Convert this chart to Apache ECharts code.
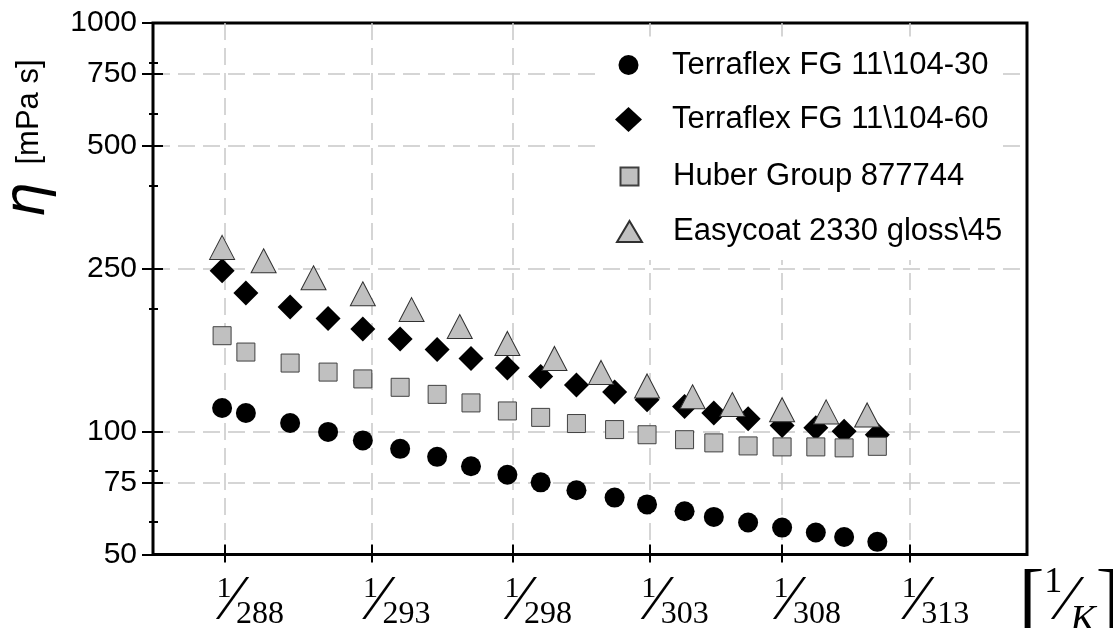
<!DOCTYPE html>
<html>
<head>
<meta charset="utf-8">
<script src="https://cdn.jsdelivr.net/npm/echarts@6/dist/echarts.min.js"></script>
<style>
  html, body { margin: 0; padding: 0; background: #fff; }
  #main { width: 1113px; height: 628px; }
</style>
</head>
<body>
<div id="main"></div>
<script>
// measurement temperatures [K]
const tempA = [287.9, 288.7, 290.2, 291.5, 292.7, 294.0, 295.3, 296.5, 297.8, 299.0,
               300.3, 301.7, 302.9, 304.3, 305.4, 306.7, 308.0, 309.3, 310.4, 311.7];
const tempB = [287.9, 289.3, 291.0, 292.7, 294.4, 296.1, 297.8, 299.5, 301.2, 302.9,
               304.6, 306.1, 308.0, 309.7, 311.3];

// viscosity [mPa s]
const terra30 = [114.2, 111.0, 104.9, 99.8, 95.1, 90.7, 86.7, 82.2, 78.4, 75.1,
                 71.8, 68.9, 66.3, 63.8, 61.8, 59.9, 58.2, 56.6, 55.2, 53.7];
const terra60 = [247.4, 218.2, 201.7, 189.1, 178.1, 168.4, 158.8, 151.0, 143.0, 136.4,
                 130.0, 125.0, 119.6, 115.2, 111.0, 107.4, 103.4, 102.1, 100.1, 98.2];
const huber = [171.6, 156.5, 147.1, 139.8, 134.5, 128.3, 123.3, 117.5, 112.3, 108.3,
               104.6, 101.1, 98.2, 95.5, 93.8, 92.2, 91.7, 91.7, 91.2, 92.0];
const easycoat = [282.3, 261.7, 237.8, 217.3, 198.8, 180.7, 164.3, 151.0, 139.5, 129.3,
                  121.6, 116.4, 113.1, 111.7, 109.8];

const seriesNames = ['Terraflex FG 11\\104-30', 'Terraflex FG 11\\104-60',
                     'Huber Group 877744', 'Easycoat 2330 gloss\\45'];

// axis ticks
const xTickTemps = [288, 293, 298, 303, 308, 313];
const yMajor = [50, 75, 100, 250, 500, 750, 1000];
const yMinor = [60, 80, 200, 400, 600, 800];

const xMin = 1 / 317.7, xMax = 1 / 285.6;
const xTicks = xTickTemps.map(t => 1 / t);

const chart = echarts.init(document.getElementById('main'));

const gridColor = '#c8c8c8';
const fracRich = {
    n: { fontFamily: 'Liberation Serif', fontSize: 30, lineHeight: 30, width: 10, verticalAlign: 'top', color: '#000' },
    s: { fontFamily: 'Liberation Serif', fontSize: 64, lineHeight: 56, width: 7, color: '#000' },
    d: { fontFamily: 'Liberation Serif', fontSize: 32, lineHeight: 32, verticalAlign: 'bottom', color: '#000' }
};

function xAxisCfg(inside, len, main) {
    return {
        type: 'value', min: xMin, max: xMax, inverse: true, position: 'bottom',
        axisLine: { show: false },
        axisTick: { customValues: xTicks, inside: inside, length: len, lineStyle: { color: '#000', width: 2 } },
        axisLabel: main ? {
            customValues: xTicks, margin: 20, align: 'center', padding: [0, 0, 0, 53],
            formatter: v => '{n|1}{s|\u2044}{d|' + Math.round(1 / v) + '}',
            rich: fracRich
        } : { show: false },
        splitLine: main ? { show: true, lineStyle: { color: gridColor, width: 1.5, type: [17, 8] } } : { show: false },
        name: main ? '{b|[}{n|1}{s|\u2044}{k|K}{b|]}' : '',
        nameLocation: 'start',
        nameGap: -8,
        nameTextStyle: {
            align: 'left', verticalAlign: 'top', padding: [10, 0, 0, 0],
            rich: {
                b: { fontFamily: 'Liberation Serif', fontSize: 76, lineHeight: 76, color: '#000' },
                n: { fontFamily: 'Liberation Serif', fontSize: 36, lineHeight: 36, verticalAlign: 'top', color: '#000' },
                s: { fontFamily: 'Liberation Serif', fontSize: 64, lineHeight: 64, width: 8, color: '#000' },
                k: { fontFamily: 'Liberation Serif', fontStyle: 'italic', fontSize: 38, lineHeight: 46, verticalAlign: 'bottom', color: '#000' }
            }
        }
    };
}

function yAxisCfg(values, inside, len, main) {
    return {
        type: 'log', logBase: 10, min: 50, max: 1000, position: 'left',
        axisLine: { show: false },
        axisTick: { customValues: values, inside: inside, length: len, lineStyle: { color: '#000', width: 2 } },
        axisLabel: main ? {
            customValues: values, margin: 16, fontSize: 30, fontFamily: 'Liberation Sans', color: '#000',
            formatter: v => String(Math.round(v))
        } : { show: false },
        splitLine: main ? { show: true, showMinLine: false, showMaxLine: false,
                            lineStyle: { color: gridColor, width: 1.5, type: [17, 8] } } : { show: false },
        name: main ? '{eta|\u03b7}{sp| }{u|[mPa s]}' : '',
        nameLocation: 'middle',
        nameGap: 96,
        nameTextStyle: {
            padding: [0, 0, 0, 300],
            rich: {
                eta: { fontFamily: 'DejaVu Sans', fontStyle: 'italic', fontSize: 56, color: '#000' },
                sp: { width: 18 },
                u: { fontFamily: 'Liberation Sans', fontSize: 31, color: '#000' }
            }
        }
    };
}

const markers = [
    { symbol: 'circle', size: 20, legendSize: [20, 20], style: { color: '#000', opacity: 1 } },
    { symbol: 'diamond', size: 25, legendSize: [27, 25], style: { color: '#000', opacity: 1 } },
    { symbol: 'rect', size: 18, legendSize: [18, 18], style: { color: '#c0c0c0', borderColor: '#404040', borderWidth: 1, opacity: 1 } },
    { symbol: 'triangle', size: [25, 24], legendSize: [25, 21], style: { color: '#c0c0c0', borderColor: '#303030', borderWidth: 1, opacity: 1 } }
];
const seriesData = [
    tempA.map((t, i) => [1 / t, terra30[i]]),
    tempA.map((t, i) => [1 / t, terra60[i]]),
    tempA.map((t, i) => [1 / t, huber[i]]),
    tempB.map((t, i) => [1 / t, easycoat[i]])
];

const rowCenters = [65, 119.5, 176.5, 231.5];
const legends = seriesNames.map((name, i) => {
    const w = markers[i].legendSize[0], h = markers[i].legendSize[1];
    return {
        data: [name], orient: 'vertical', left: 600, top: rowCenters[i] - 28.5,
        itemWidth: w, itemHeight: h, selectedMode: false,
        backgroundColor: '#fff',
        padding: [11.5, 12, 11.5, 28.5 - w / 2],
        textStyle: { fontSize: 31, fontFamily: 'Liberation Sans', color: '#000', lineHeight: 34,
                     padding: [0, 0, 0, 38.5 - w / 2] }
    };
});

const option = {
    backgroundColor: '#fff',
    animation: false,
    grid: { left: 153, right: 86, top: 23, bottom: 73.5, show: true, borderColor: '#000', borderWidth: 3,
            outerBoundsMode: 'none' },
    legend: legends,
    xAxis: [xAxisCfg(false, 8, true), xAxisCfg(true, 10, false)],
    yAxis: [yAxisCfg(yMajor, false, 11, true), yAxisCfg(yMajor, true, 10, false),
            yAxisCfg(yMinor, false, 4, false), yAxisCfg(yMinor, true, 5, false)],
    series: seriesNames.map((name, i) => ({
        type: 'scatter', name: name, xAxisIndex: 0, yAxisIndex: 0,
        symbol: markers[i].symbol, symbolSize: markers[i].size,
        itemStyle: markers[i].style,
        data: seriesData[i]
    }))
};

chart.setOption(option);
</script>
</body>
</html>
